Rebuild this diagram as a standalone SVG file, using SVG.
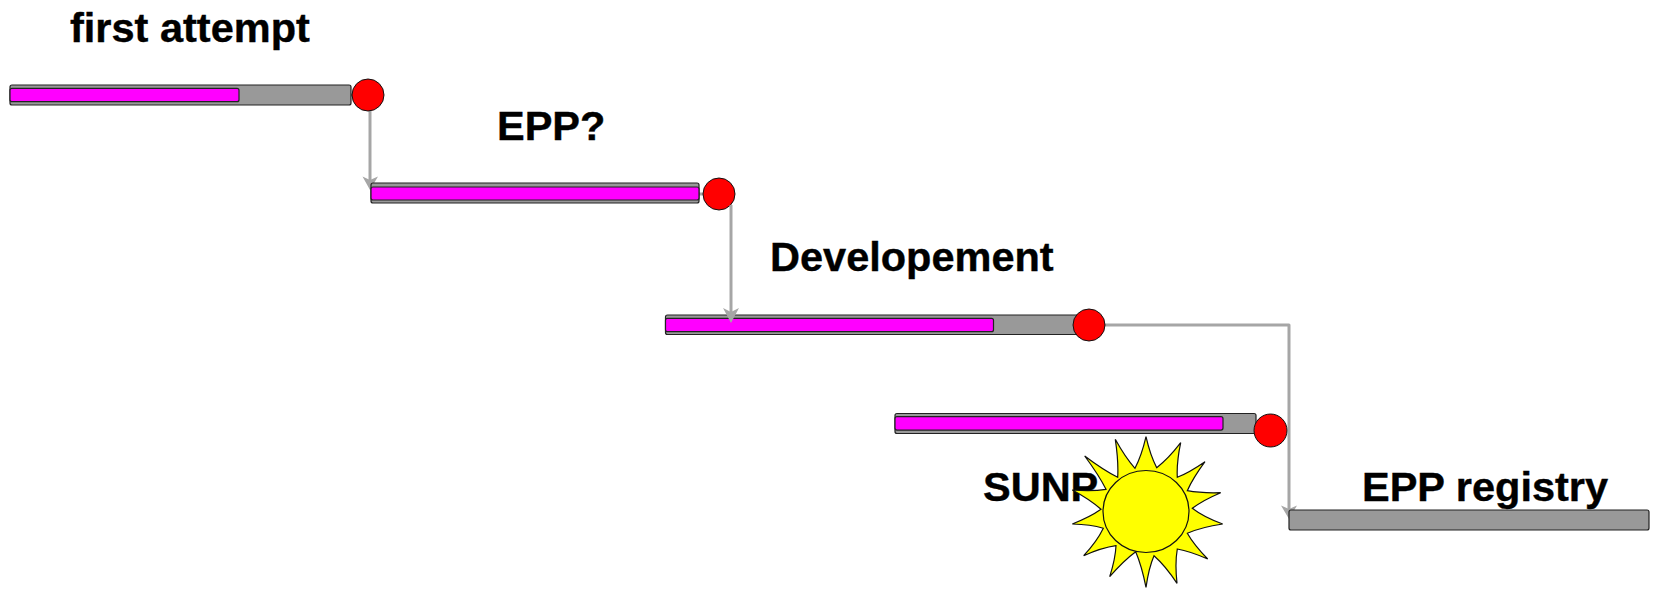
<svg xmlns="http://www.w3.org/2000/svg" width="1657" height="589" viewBox="0 0 1657 589">
<style>
.t{font:bold 41.500px "Liberation Sans",Arial,sans-serif;fill:#000;stroke:#000;stroke-width:.4}
.b{fill:#999;stroke:#222;stroke-width:1.2}
.m{fill:#f0f;stroke:#222;stroke-width:1.2}
.c{fill:#f00;stroke:#111;stroke-width:1}
.k{fill:none;stroke:#a6a6a6;stroke-width:3;stroke-linejoin:round}
.h{fill:#a6a6a6}
.s{fill:#ff0;stroke:#111;stroke-width:1.2}
</style>
<rect width="1657" height="589" fill="#fff"/>
<g id="connectors">
<path class="k" d="M370 100V182"/><path class="h" d="M362.500 176.500L370 180L378 176.500L370 190Z"/>
<path class="k" d="M699 194H708"/>
<path class="k" d="M1105 325H1289V512"/><path class="h" d="M1281 505.500L1289 509L1297 505.500L1289 519Z"/>
<path class="k" d="M351 95H356"/>
</g>
<g id="n1"><rect class="b" x="10" y="85" width="341" height="20" rx="2"/><rect class="m" x="10" y="88.300" width="229" height="13.400" rx="2"/><circle class="c" cx="368" cy="95" r="16"/><text class="t" x="70" y="42">first attempt</text></g>
<g id="n2"><rect class="b" x="371" y="183" width="328" height="20" rx="2"/><rect class="m" x="371" y="187" width="328" height="13" rx="2"/><circle class="c" cx="719" cy="194" r="16"/><text class="t" x="497" y="140">EPP?</text></g>
<g id="n3"><rect class="b" x="665.500" y="315" width="424" height="19.500" rx="2"/><rect class="m" x="665.500" y="318.300" width="328" height="13.400" rx="2"/><circle class="c" cx="1089" cy="325" r="16"/><text class="t" x="770" y="271">Developement</text></g>
<g id="connector-2"><path class="k" d="M731 205V316"/><path class="h" d="M723 308L731 312L739 308L731 323Z"/></g>
<g id="n4"><rect class="b" x="895" y="413.500" width="361" height="20" rx="2"/><rect class="m" x="895" y="416.700" width="328" height="13.400" rx="2"/><circle class="c" cx="1270.500" cy="430.500" r="16.500"/><text class="t" x="983" y="501">SUNP</text></g>
<g id="n5"><rect class="b" x="1289" y="510" width="360" height="20" rx="2"/><text class="t" x="1362" y="501">EPP registry</text></g>
<g id="sun"><path class="s" d="M1146 436.700Q1150.300 455.500 1156.700 467.700Q1168.300 458.900 1180.700 442.700Q1176.500 462.600 1177.300 477.300Q1189.300 472.500 1205 461.700Q1193.100 477.900 1187.300 490.700Q1200.900 493.300 1220.700 492.700Q1202.800 500.300 1192.300 508.300Q1203.800 517.200 1222.700 524Q1201.400 527.100 1187.300 533.300Q1194.300 545.400 1207.700 559Q1189.800 551.200 1177.300 549Q1174.800 563.200 1177 583.300Q1165.600 566 1154 555.700Q1148.800 567.800 1146 587.300Q1141.700 565.800 1135.700 551.700Q1123.400 560.800 1109.700 576.700Q1115.500 558.100 1116 545.700Q1101.900 547.700 1083.700 555.700Q1097.100 541.300 1103.300 528.300Q1090.900 524.500 1072.300 524Q1090 517.100 1101 509.300Q1090.200 499.600 1072.300 490Q1092.100 491.700 1106 489.300Q1098.800 475 1084.700 456Q1103.500 470.200 1117.700 477.300Q1118.600 461.400 1115.300 439.300Q1125.400 457.700 1135 468.300Q1141.600 455.700 1146 436.700Z"/><ellipse class="s" cx="1146" cy="511.500" rx="43" ry="41"/></g>
</svg>
